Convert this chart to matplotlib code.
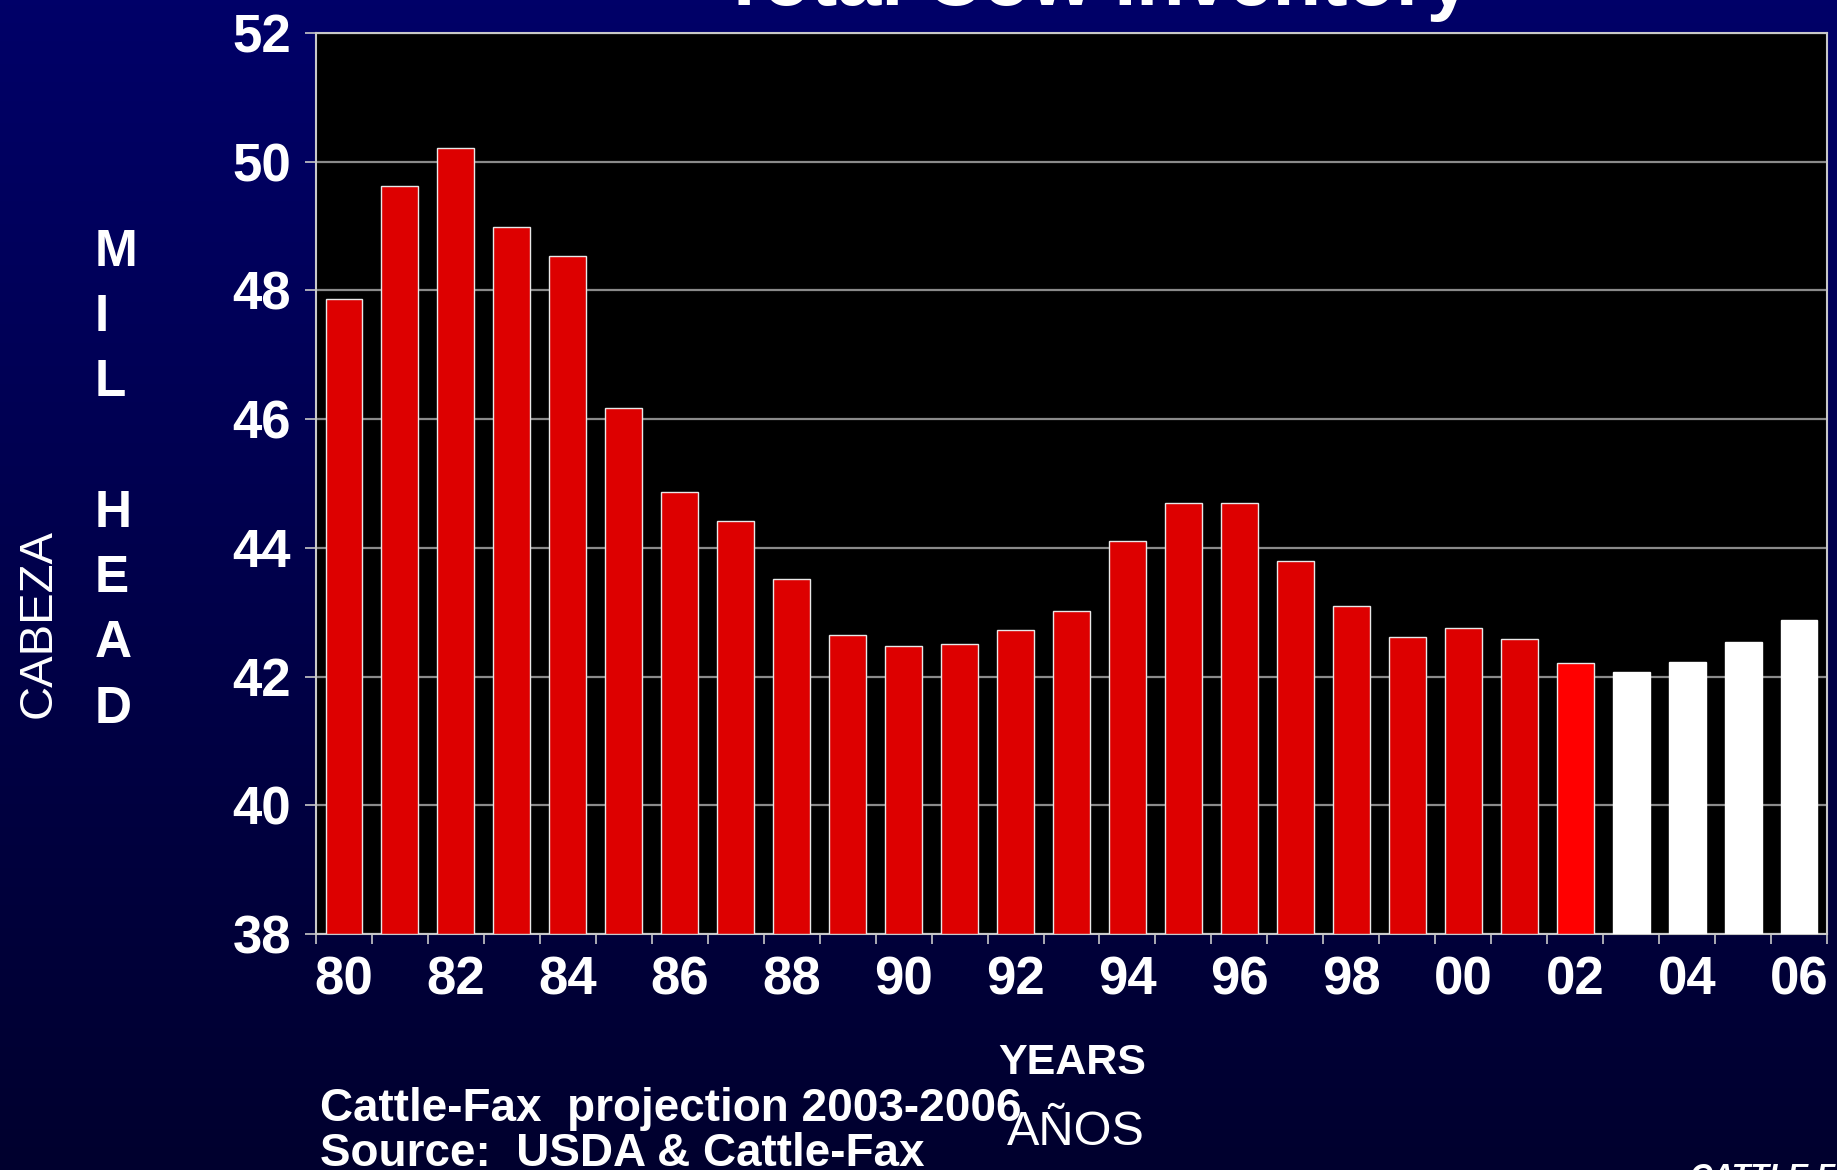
import matplotlib
matplotlib.use("Agg")
import matplotlib.pyplot as plt
import numpy as np

years = ["80", "81", "82", "83", "84", "85", "86", "87", "88", "89", "90", "91", "92",
         "93", "94", "95", "96", "97", "98", "99", "00", "01", "02", "03", "04", "05", "06"]
values = [47.86, 49.62, 50.21, 48.98, 48.54, 46.18, 44.87, 44.41, 43.52, 42.64, 42.48, 42.50,
          42.73, 43.02, 44.10, 44.70, 44.70, 43.80, 43.10, 42.62, 42.76, 42.58, 42.21,
          42.07, 42.22, 42.54, 42.88]
kinds = ["hist"] * 22 + ["current"] + ["proj"] * 4
yticks = [38, 40, 42, 44, 46, 48, 50, 52]

color_map = {"hist": "#DD0000", "current": "#FF0000", "proj": "#FFFFFF"}

W, H = 1837, 1170
fig = plt.figure(figsize=(W / 100, H / 100), dpi=100)

# gradient background
bg = fig.add_axes([0, 0, 1, 1], zorder=-10)
top = np.array([0, 0, 104]) / 255
bot = np.array([0, 0, 46]) / 255
t = np.linspace(0, 1, 256)[:, None]
grad = (top[None, :] * (1 - t) + bot[None, :] * t)[:, None, :]
bg.imshow(grad, aspect="auto", extent=[0, 1, 0, 1])
bg.set_axis_off()

ax = fig.add_axes([316 / W, 1 - 934 / H, (1827 - 316) / W, (934 - 33) / H])
ax.set_facecolor("black")
x = np.arange(len(years))
cols = [color_map[k] for k in kinds]
edges = ["#E8E8E8" if k != "proj" else "#FFFFFF" for k in kinds]
ax.bar(x, [v - 38 for v in values], bottom=38, width=0.66, color=cols,
       edgecolor=edges, linewidth=1.0, zorder=3)

ax.set_ylim(38, 52)
ax.set_xlim(-0.5, len(years) - 0.5)
ax.set_yticks(yticks)
ax.set_yticklabels([str(v) for v in yticks])
ax.yaxis.grid(True, color="#8A8A8A", linewidth=1.6, zorder=1)
ax.set_axisbelow(True)

ax.set_xticks(x[::2])
ax.set_xticklabels(years[::2])
ax.set_xticks(np.arange(-0.5, len(years), 1.0), minor=True)
ax.tick_params(axis="x", which="major", length=0, pad=15.5)
ax.tick_params(axis="x", which="minor", length=7, width=1.2, color="#C8C8C8", direction="out")
ax.tick_params(axis="y", length=8, width=1.2, color="#C8C8C8", pad=10, direction="out")
for lab in ax.get_xticklabels() + ax.get_yticklabels():
    lab.set_fontfamily("Liberation Sans")
    lab.set_fontweight("bold")
    lab.set_fontsize(38)
    lab.set_color("white")
for sp in ax.spines.values():
    sp.set_color("#C8C8C8")
    sp.set_linewidth(1.5)

# title (cut off at top, as in the original slide)
fig.text(1095 / W, 1 - 5 / H, "Total Cow Inventory", ha="center", va="baseline",
         fontsize=57, fontweight="bold", color="white", family="Liberation Sans")

# vertical stacked letters
letters = "MIL HEAD"
y0 = 252 / H
step = 65.3 / H
for i, ch in enumerate(letters):
    if ch == " ":
        continue
    fig.text(95 / W, 1 - y0 - i * step, ch, ha="left", va="center", fontsize=37,
             fontweight="bold", color="white", family="Liberation Sans")

fig.text(39 / W, 1 - 623 / H, "CABEZA", rotation=90, ha="center", va="center",
         fontsize=34, color="white", family="Liberation Sans")

fig.text(1072 / W, 1 - 1074 / H, "YEARS", ha="center", va="baseline", fontsize=31,
         fontweight="bold", color="white", family="Liberation Sans")
fig.text(1076 / W, 1 - 1145 / H, "AÑOS", ha="center", va="baseline", fontsize=35,
         color="white", family="Liberation Sans")

fig.text(320 / W, 1 - 1121 / H, "Cattle-Fax  projection 2003-2006", ha="left", va="baseline",
         fontsize=33, fontweight="bold", color="white", family="Liberation Sans")
fig.text(320 / W, 1 - 1166 / H, "Source:  USDA & Cattle-Fax", ha="left", va="baseline",
         fontsize=33, fontweight="bold", color="white", family="Liberation Sans")

# logo fragment at bottom right (cut off, as in the original slide)
fig.text(1690 / W, 1 - 1186 / H, "CATTLE FAX", ha="left", va="baseline", fontsize=22,
         fontweight="bold", fontstyle="italic", color="white", family="Liberation Sans")

fig.savefig("out.png", dpi=100)
